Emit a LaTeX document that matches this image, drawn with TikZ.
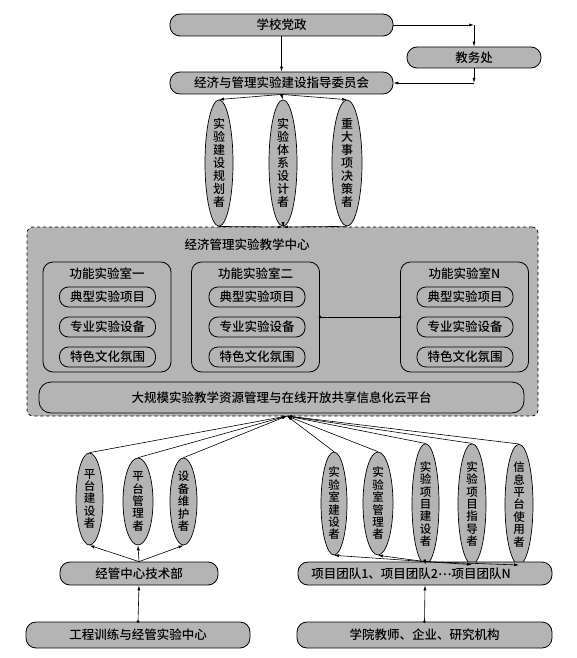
\documentclass[tikz,border=0pt]{standalone}
\usepackage{fontspec}
\setmainfont{Noto Sans CJK SC}[UprightFont={* Medium}]
\usetikzlibrary{shapes.geometric,arrows.meta}
\definecolor{boxgray}{RGB}{180,180,180}
\tikzset{
  pill/.style={draw, fill=boxgray, rounded corners=10pt, inner sep=0pt, line width=0.8pt,
    font=\fontsize{12.5}{14}\selectfont},
  vell/.style={draw, fill=boxgray, ellipse, inner sep=0pt, line width=0.7pt, align=center,
    font=\fontsize{12}{13}\selectfont},
  vellb/.style={vell, font=\fontsize{11.5}{12.4}\selectfont},
  labbox/.style={draw, rounded corners=10pt, line width=0.8pt, minimum width=128pt, minimum height=110pt, inner sep=0pt},
  itembox/.style={draw, rounded corners=9pt, line width=0.8pt, minimum width=96pt, minimum height=20pt, inner sep=0pt,
    font=\fontsize{12.5}{14}\selectfont},
  lbl/.style={inner sep=0pt, font=\fontsize{12.5}{14}\selectfont},
  arr/.style={-{Latex[length=5pt,width=3pt]}, line width=0.6pt},
  conn/.style={line width=0.6pt},
}
\begin{document}
\begin{tikzpicture}[x=1pt,y=-1pt]
\useasboundingbox (0,0) rectangle (576,658);

% top part
\node[pill, minimum width=223pt, minimum height=22pt] (dz) at (281.5,25) {学校党政};
\node[pill, minimum width=134pt, minimum height=21pt] (jwc) at (474,57.5) {教务处};
\node[pill, minimum width=223pt, minimum height=22pt] (wyh) at (281.5,83) {经济与管理实验建设指导委员会};
\coordinate (c1) at (474,25);
\coordinate (c2) at (474,83);
\draw[arr] (dz.east) -- (c1);
\draw[arr] (c1) -- (jwc.north);
\draw[arr] (jwc.south) -- (c2);
\draw[arr] (c2) -- (wyh.east);
\draw[arr] (dz.south) -- (wyh.north);

% upper ellipses
\node[vell, minimum width=28pt, minimum height=100pt] (e1) at (219,163) {实\\验\\建\\设\\规\\划\\者};
\node[vell, minimum width=28pt, minimum height=100pt] (e2) at (283,163) {实\\验\\体\\系\\设\\计\\者};
\node[vell, minimum width=30pt, minimum height=100pt] (e3) at (347,163) {重\\大\\事\\项\\决\\策\\者};
\foreach \e in {e1,e2,e3} \draw[arr] (wyh.south) -- (\e.north);

% centre box
\node[draw, dashed, fill=boxgray, rounded corners=6pt, line width=0.7pt,
      minimum width=511pt, minimum height=189pt, inner sep=0pt] (center) at (282.5,321.5) {};
\coordinate (ctop) at (283,227);
\coordinate (cbot) at (287,416);
\foreach \e in {e1,e2,e3} \draw[arr] (\e.south) -- (ctop);
\node[lbl] (ctitle) at (247,245) {经济管理实验教学中心};

\node[labbox] (lab1) at (107,317) {};
\node[labbox] (lab2) at (255.5,317) {};
\node[labbox] (labN) at (464.5,317) {};
\node[lbl] (t1) at (107,274) {功能实验室一};
\node[lbl] (t2) at (255.5,274) {功能实验室二};
\node[lbl] (tN) at (464.5,274) {功能实验室N};
\foreach \l/\x in {1/107.5,2/257,N/465} {
  \node[itembox] (a\l) at (\x,297) {典型实验项目};
  \node[itembox] (b\l) at (\x,327) {专业实验设备};
  \node[itembox] (c\l) at (\x,357) {特色文化氛围};
}
\draw[conn] (lab2.east) -- (labN.west);
\fill (lab2.east) circle (1.6pt);
\fill (labN.west) circle (1.6pt);

\node[draw, rounded corners=12pt, line width=0.8pt, minimum width=485pt, minimum height=31pt, inner sep=0pt,
      font=\fontsize{12.5}{14}\selectfont] (plat) at (281.5,397.5) {大规模实验教学资源管理与在线开放共享信息化云平台};

% lower left
\node[vellb, minimum width=27pt, minimum height=92pt] (l1) at (89.5,499) {平\\台\\建\\设\\者};
\node[vellb, minimum width=30pt, minimum height=87pt] (l2) at (138,501.5) {平\\台\\管\\理\\者};
\node[vellb, minimum width=27pt, minimum height=87pt] (l3) at (183.5,501.5) {设\\备\\维\\护\\者};
\node[pill, minimum width=158pt, minimum height=23pt] (jgzx) at (139,573.5) {经管中心技术部};
\node[pill, minimum width=224pt, minimum height=26pt] (gcxl) at (138,635) {工程训练与经管实验中心};
\foreach \e in {l1,l2,l3} {
  \draw[arr] (\e.north) -- (cbot);
  \draw[arr] (jgzx.north) -- (\e.south);
}
\draw[arr] (gcxl.north) -- (jgzx.south);
\fill (gcxl.north) circle (1.6pt);

% lower right
\node[vellb, minimum width=26pt, minimum height=87pt] (r1) at (334,503.5) {实\\验\\室\\建\\设\\者};
\node[vellb, minimum width=30pt, minimum height=87pt] (r2) at (378,503.5) {实\\验\\室\\管\\理\\者};
\node[vellb, minimum width=27pt, minimum height=90pt] (r3) at (425.5,504) {实\\验\\项\\目\\建\\设\\者};
\node[vellb, minimum width=28pt, minimum height=90pt] (r4) at (472,504) {实\\验\\项\\目\\指\\导\\者};
\node[vellb, minimum width=28pt, minimum height=89pt] (r5) at (519,504.5) {信\\息\\平\\台\\使\\用\\者};
\node[pill, minimum width=254pt, minimum height=23pt] (xmtd) at (425,573.5) {\hspace*{-28pt}项目团队1、项目团队2\raisebox{3pt}{…}项目团队N};
\node[pill, minimum width=255pt, minimum height=26pt] (xyjs) at (424.5,635) {学院教师、企业、研究机构};
\foreach \e in {r1,r2,r3,r4,r5} {
  \draw[arr] (\e.north) -- (cbot);
  \draw[arr] (xmtd.north) -- (\e.south);
}
\draw[arr] (xyjs.north) -- (xmtd.south);
\fill (xyjs.north) circle (1.6pt);
\end{tikzpicture}
\end{document}
